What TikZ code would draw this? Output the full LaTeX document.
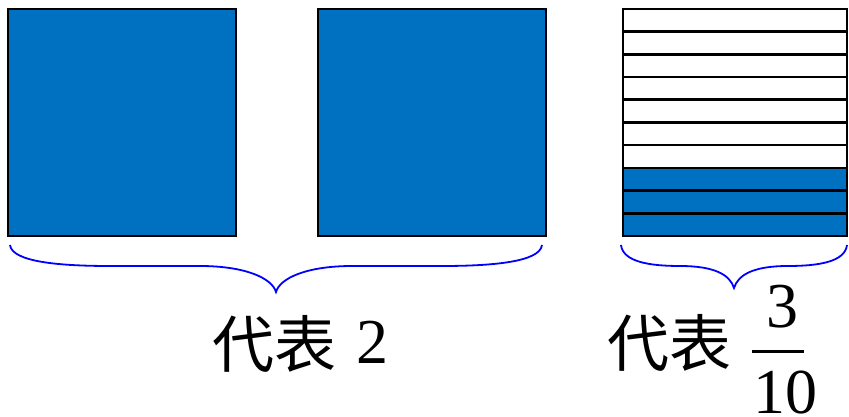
\documentclass[tikz,border=0pt]{standalone}
\usepackage{fontspec}
\setmainfont{Liberation Serif}
\newfontfamily\cjk{Noto Sans CJK SC}
\definecolor{fillblue}{RGB}{0,112,192}
\begin{document}
\begin{tikzpicture}[x=1pt,y=-1pt,
  box/.style={draw=black,line width=2.8pt,fill=fillblue},
  strip/.style={draw=black,line width=2.6pt},
  brc/.style={draw=blue,line width=1.8pt},
  cjktext/.style={inner sep=0pt,anchor=base west,font=\cjk\fontsize{62}{62}\selectfont},
  num/.style={inner sep=0pt,anchor=base,font=\fontsize{64}{64}\selectfont}]
\useasboundingbox (0,0) rectangle (849,417);
\fill[white] (0,0) rectangle (849,417);
% two full squares
\draw[box] (8,9) rectangle (236,236);
\draw[box] (318,9) rectangle (546,236);
% tenths square
\fill[fillblue] (623,168) rectangle (847,236);
\foreach \k in {1,...,9} \draw[strip] (623,{9+\k*22.7}) -- (847,{9+\k*22.7});
\draw[strip] (623,9) rectangle (847,236);
% braces
\draw[brc] (10,245) .. controls (12,262) and (60,266) .. (110,266) -- (200,266)
  .. controls (245,266) and (272,278) .. (276,292)
  .. controls (280,278) and (307,266) .. (352,266) -- (442,266)
  .. controls (492,266) and (540,262) .. (542,245);
\draw[brc] (621,245) .. controls (623,262) and (650,266) .. (680,266)
  .. controls (715,266) and (730,275) .. (734,288)
  .. controls (738,275) and (753,266) .. (788,266)
  .. controls (818,266) and (845,262) .. (847,245);
% labels
\node[cjktext] (lab1) at (212,367) {代表};
\node[num,anchor=base west] (two) at (356,363) {2};
\node[cjktext] (lab2) at (607,366) {代表};
\node[num] (three) at (782,327) {3};
\node[num] (ten) at (785,413) {10};
\draw[line width=3pt] (752,351) -- (804,351);
\end{tikzpicture}
\end{document}
